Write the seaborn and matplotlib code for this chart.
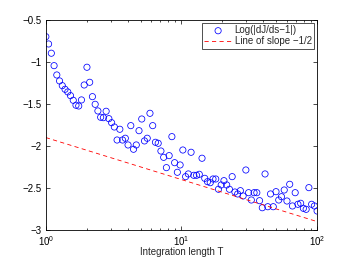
import numpy as np
import pandas as pd
import matplotlib
matplotlib.use("Agg")
import matplotlib.pyplot as plt
import seaborn as sns

# -------------------------
# Data
# -------------------------
n_points = 100
log_t_start, log_t_end = 0, 2

log_err = [
    -0.699, -0.786, -0.896, -1.044, -1.155, -1.226, -1.282, -1.325, -1.357, -1.401,
    -1.456, -1.515, -1.524, -1.452, -1.274, -1.063, -1.242, -1.413, -1.504, -1.583,
    -1.658, -1.663, -1.587, -1.675, -1.723, -1.774, -1.929, -1.801, -1.929, -1.908,
    -1.988, -1.758, -2.039, -1.988, -1.818, -1.679, -1.940, -1.908, -1.611, -1.758,
    -1.956, -1.968, -2.060, -2.135, -2.258, -2.115, -1.889, -2.199, -2.313, -2.226,
    -2.048, -2.365, -2.333, -2.075, -2.349, -2.349, -2.337, -2.146, -2.385, -2.425,
    -2.437, -2.393, -2.393, -2.515, -2.464, -2.413, -2.464, -2.515, -2.365, -2.548,
    -2.571, -2.532, -2.595, -2.286, -2.556, -2.643, -2.556, -2.556, -2.651, -2.735,
    -2.333, -2.723, -2.571, -2.723, -2.544, -2.643, -2.604, -2.524, -2.655, -2.456,
    -2.714, -2.556, -2.694, -2.682, -2.742, -2.754, -2.496, -2.694, -2.714, -2.774,
]

slope = -0.5
intercept = -1.9

T = np.logspace(log_t_start, log_t_end, n_points)
df = pd.DataFrame({"T": T, "err": log_err})
df["ref"] = intercept + slope * np.log10(df["T"])

# -------------------------
# Style
# -------------------------
sns.set_style("ticks")
plt.rcParams["font.family"] = ["Liberation Sans", "DejaVu Sans"]
plt.rcParams["font.size"] = 7
plt.rcParams["xtick.direction"] = "in"
plt.rcParams["ytick.direction"] = "in"
plt.rcParams["axes.linewidth"] = 0.6
plt.rcParams["axes.edgecolor"] = "black"
plt.rcParams["xtick.color"] = "black"
plt.rcParams["ytick.color"] = "black"

fig = plt.figure(figsize=(3.5, 2.59), dpi=100)
ax = fig.add_axes([0.131, 0.112, 0.775, 0.811])

sns.scatterplot(data=df, x="T", y="err", ax=ax, marker="o", s=20,
                facecolor="none", edgecolor="#0000ff", linewidth=0.55,
                label="Log(|dJ/ds\u22121|)")
sns.lineplot(data=df, x="T", y="ref", ax=ax, color="red", linewidth=0.6,
             dashes=False, label="Line of slope \u22121/2")
ax.lines[-1].set_linestyle((0, (5, 4)))

ax.set_xscale("log")
ax.set_xlim(1, 100)
ax.set_ylim(-3, -0.5)
ax.set_yticks([-3, -2.5, -2, -1.5, -1, -0.5])
ax.set_yticklabels(["\u22123", "\u22122.5", "\u22122", "\u22121.5", "\u22121", "\u22120.5"])
ax.set_xlabel("Integration length T", fontsize=7, labelpad=-1)
ax.set_ylabel("")
ax.tick_params(which="both", top=True, right=True, labelsize=7, width=0.5)
ax.tick_params(axis="x", pad=3)
ax.tick_params(axis="y", pad=3)
ax.tick_params(which="major", length=3)
ax.tick_params(which="minor", length=1.5)

leg = ax.legend(loc="upper right", fontsize=7, frameon=True, fancybox=False,
                borderpad=0.25, handlelength=2.8, handletextpad=0.3,
                labelspacing=0.1, borderaxespad=0.3)
leg.get_frame().set_edgecolor("black")
leg.get_frame().set_linewidth(0.6)

fig.savefig("out.png", dpi=100)
